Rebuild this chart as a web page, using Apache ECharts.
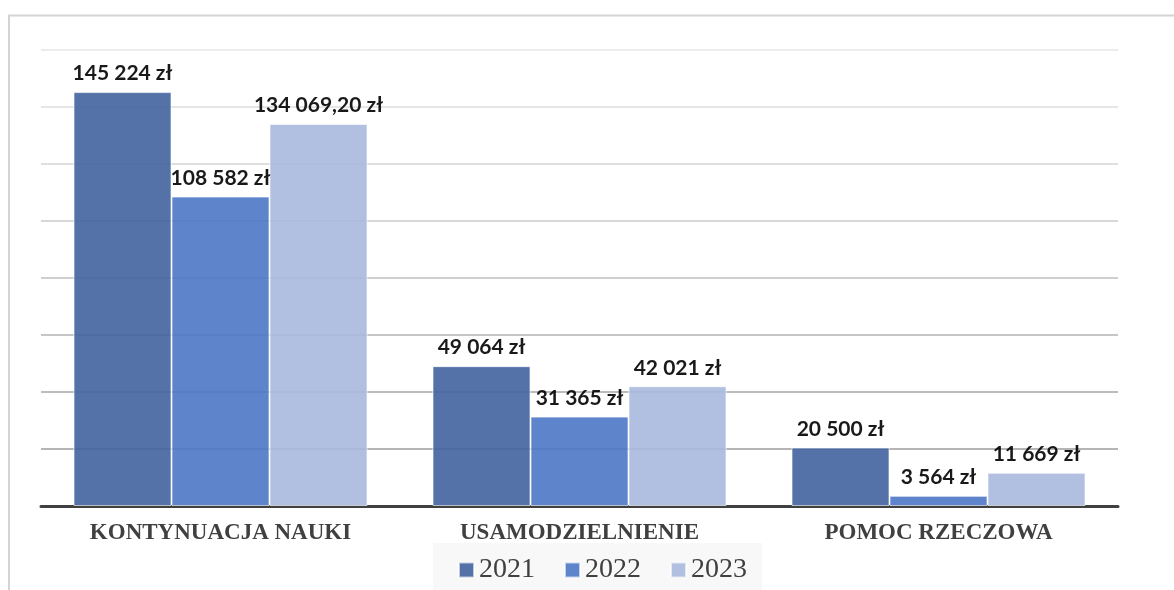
<!DOCTYPE html>
<html>
<head>
<meta charset="utf-8">
<script src="https://cdn.jsdelivr.net/npm/echarts@6/dist/echarts.min.js"></script>
<style>
html,body{margin:0;padding:0;background:#fff;}
#main{width:1174px;height:590px;}
</style>
</head>
<body>
<div id="main"></div>
<script>
const categories = ['KONTYNUACJA NAUKI', 'USAMODZIELNIENIE', 'POMOC RZECZOWA'];
const seriesNames = ['2021', '2022', '2023'];
const values2021 = [145224, 49064, 20500];
const values2022 = [108582, 31365, 3564];
const values2023 = [134069.20, 42021, 11669];
const seriesColors = ['#41639f', '#4c78c6', '#a8b9de'];
const gridColors = ['#999999', '#9c9c9c', '#a6a6a6', '#b3b3b3', '#bfbfbf', '#cacaca', '#d4d4d4', '#dedede', '#e6e6e6'];

function fmt(v) {
  const isInt = Math.abs(v - Math.round(v)) < 1e-9;
  let intPart = Math.floor(v);
  let s = String(intPart).replace(/\B(?=(\d{3})+(?!\d))/g, ' ');
  if (!isInt) s += ',' + (v - intPart).toFixed(2).slice(2);
  return s + ' zł';
}

const allValues = [values2021, values2022, values2023];
const chart = echarts.init(document.getElementById('main'));
chart.setOption({
  animation: false,
  backgroundColor: '#ffffff',
  graphic: [{
    type: 'rect', z: -10,
    shape: { x: 9, y: 15.5, width: 1200, height: 620 },
    style: { fill: 'none', stroke: '#d4d4d4', lineWidth: 2 }
  }],
  grid: { left: 41, right: 56, top: 50, bottom: 84 },
  legend: {
    data: seriesNames,
    top: 543,
    left: 433,
    itemWidth: 15, itemHeight: 15, itemGap: 29,
    icon: 'rect',
    padding: [13, 15, 20, 25],
    backgroundColor: '#f8f8f8',
    textStyle: { fontFamily: 'Liberation Serif', fontSize: 28, color: '#404040' }
  },
  xAxis: {
    type: 'category',
    data: categories,
    axisLine: { lineStyle: { color: '#404040', width: 3 } },
    axisTick: { show: false },
    axisLabel: { fontFamily: 'Liberation Serif', fontWeight: 'bold', fontSize: 23, color: '#404040', margin: 16 }
  },
  yAxis: {
    type: 'value', min: 0, max: 160000, interval: 20000,
    axisLabel: { show: false },
    axisLine: { show: false },
    axisTick: { show: false },
    splitLine: { lineStyle: { color: gridColors, width: 1.5 } }
  },
  series: seriesNames.map((n, i) => ({
    name: n,
    type: 'bar',
    data: allValues[i],
    barWidth: 98,
    barGap: '0%',
    itemStyle: { color: seriesColors[i], opacity: 0.9, borderColor: 'rgba(255,255,255,0.7)', borderWidth: 1 },
    label: {
      show: true, position: 'top', distance: 8,
      formatter: p => fmt(p.value),
      fontFamily: 'Lato', fontWeight: 'bold', fontSize: 21, color: '#000'
    }
  }))
});
</script>
</body>
</html>
